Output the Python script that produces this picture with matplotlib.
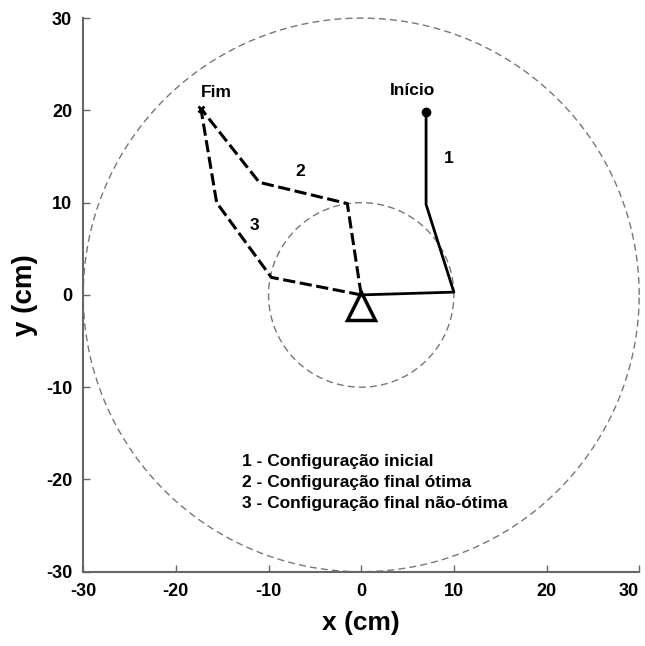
import numpy as np
import matplotlib.pyplot as plt

plt.rcParams['font.family'] = ['Liberation Sans', 'DejaVu Sans']
plt.rcParams['font.weight'] = 'bold'
plt.rcParams['axes.unicode_minus'] = False

# workspace radii (cm)
R_INNER = 10
R_OUTER = 30

# arm joint positions (cm): base -> joint 1 -> joint 2 -> end effector
cfg1_x = [0.0, 10.0, 7.0, 7.0]
cfg1_y = [0.0, 0.3, 9.8, 19.8]
cfg2_x = [0.0, -1.5, -11.0, -17.3]
cfg2_y = [0.0, 9.9, 12.2, 20.2]
cfg3_x = [0.0, -9.7, -15.6, -17.3]
cfg3_y = [0.0, 1.9, 10.0, 20.2]

base_xy = (0.0, -1.2)

legend_lines = ['1 - Configuração inicial',
                '2 - Configuração final ótima',
                '3 - Configuração final não-ótima']

fig = plt.figure(figsize=(6.45, 6.46), dpi=100)
ax = fig.add_axes([0.129, 0.115, 0.862, 0.857])

# workspace boundaries
th = np.linspace(0, 2 * np.pi, 400)
for r in (R_INNER, R_OUTER):
    ax.plot(r * np.cos(th), r * np.sin(th), color='#777777', lw=1.0,
            ls=(0, (5, 3)), clip_on=False, zorder=1)

ax.plot(cfg1_x, cfg1_y, color='black', lw=2.0, zorder=3)
ax.plot(cfg2_x, cfg2_y, color='black', lw=2.2, ls=(0, (4, 1.5)), zorder=3)
ax.plot(cfg3_x, cfg3_y, color='black', lw=2.2, ls=(0, (4, 1.5)), zorder=3)

# start / end markers and base
ax.plot(cfg1_x[-1], cfg1_y[-1], 'o', color='black', ms=6, zorder=4)
ax.plot(cfg2_x[-1], cfg2_y[-1], 'x', color='black', ms=5, mew=2, zorder=4)
ax.plot(*base_xy, marker='^', ms=20, mfc='white', mec='black', mew=2.5,
        zorder=5, ls='none')

ax.text(-15.6, 21.9, 'Fim', ha='center', va='center', fontsize=12.5)
ax.text(5.5, 22.1, 'Início', ha='center', va='center', fontsize=12.5)
ax.text(9.4, 14.8, '1', ha='center', va='center', fontsize=12.5)
ax.text(-6.6, 13.4, '2', ha='center', va='center', fontsize=12.5)
ax.text(-11.5, 7.5, '3', ha='center', va='center', fontsize=12.5)

for i, s in enumerate(legend_lines):
    ax.text(-12.9, -18.1 - 2.25 * i, s, ha='left', va='center', fontsize=12.5)

ax.set_xlim(-30, 30)
ax.set_ylim(-30, 30)
ticks = np.arange(-30, 31, 10)
ax.set_xticks(ticks)
ax.set_yticks(ticks)
ax.tick_params(direction='in', length=5, width=1, color='#666666',
               labelsize=13, pad=8)
for lab in ax.get_xticklabels() + ax.get_yticklabels():
    lab.set_fontweight('bold')
ax.get_xticklabels()[-1].set_ha('right')

for side in ('top', 'right'):
    ax.spines[side].set_visible(False)
for side in ('left', 'bottom'):
    ax.spines[side].set_color('#666666')
    ax.spines[side].set_linewidth(1.5)

ax.set_xlabel('x (cm)', fontsize=19, fontweight='bold', labelpad=8)
ax.set_ylabel('y (cm)', fontsize=20, fontweight='bold', labelpad=6)

fig.savefig('out.png', dpi=100)
